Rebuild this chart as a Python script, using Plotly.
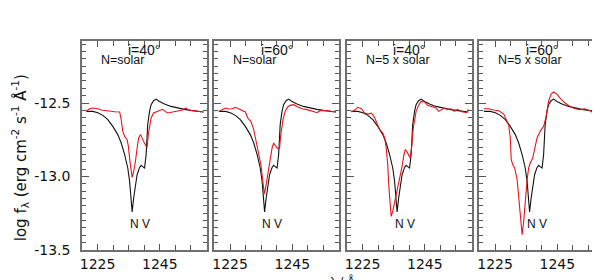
import plotly.graph_objects as go
from plotly.subplots import make_subplots

# Observed spectrum (black), same in every panel
obs_wave = [1221.4, 1223.5, 1225.1, 1226.7, 1228.3, 1229.9, 1231.5, 1232.6, 1233.7, 1234.7,
            1235.3, 1235.6, 1236.1, 1236.6, 1237.1, 1237.7, 1238.5, 1239.0, 1239.5, 1240.1,
            1240.6, 1241.1, 1241.7, 1242.2, 1243.0, 1243.8, 1244.9, 1246.5, 1248.6, 1250.7,
            1252.9, 1255.0, 1257.1, 1259.0]
obs_flux = [-12.557, -12.557, -12.566, -12.584, -12.613, -12.659, -12.715, -12.772, -12.851, -12.942,
            -13.033, -13.124, -13.241, -13.146, -13.078, -12.988, -12.938, -12.924, -12.933, -12.942,
            -12.851, -12.647, -12.557, -12.511, -12.484, -12.473, -12.489, -12.507, -12.523, -12.534,
            -12.543, -12.550, -12.557, -12.561]

# Model i=40, N=solar
m1_wave = [1221.4, 1222.5, 1223.5, 1225.1, 1226.2, 1227.3, 1228.9, 1230.5, 1232.1, 1232.6,
           1233.1, 1233.7, 1234.5, 1234.9, 1235.4, 1235.8, 1236.1, 1236.5, 1237.1, 1237.7,
           1238.2, 1238.8, 1239.3, 1239.8, 1240.6, 1240.9, 1241.3, 1241.7, 1242.2, 1243.0,
           1243.8, 1244.9, 1245.9, 1246.7, 1247.5, 1249.1, 1250.7, 1252.3, 1253.4, 1254.1,
           1255.5, 1257.1, 1259.0]
m1_flux = [-12.552, -12.539, -12.534, -12.539, -12.548, -12.552, -12.557, -12.559, -12.561, -12.613,
           -12.693, -12.727, -12.749, -12.795, -12.897, -12.988, -13.006, -12.976, -12.908, -12.806,
           -12.738, -12.715, -12.734, -12.761, -12.795, -12.802, -12.715, -12.647, -12.602, -12.568,
           -12.561, -12.548, -12.543, -12.557, -12.568, -12.561, -12.557, -12.548, -12.534, -12.548,
           -12.552, -12.557, -12.561]

# Model i=60, N=solar
m2_wave = [1221.4, 1222.5, 1223.5, 1224.6, 1225.7, 1226.7, 1227.8, 1228.9, 1229.9, 1230.7,
           1231.7, 1232.6, 1233.4, 1234.2, 1234.9, 1235.6, 1236.0, 1236.5, 1237.1, 1237.7,
           1238.5, 1239.0, 1239.5, 1240.1, 1240.6, 1240.9, 1241.3, 1242.0, 1242.7, 1243.5,
           1244.3, 1245.4, 1246.5, 1248.1, 1249.7, 1251.3, 1252.3, 1252.9, 1253.9, 1255.5,
           1257.1, 1259.0]
m2_flux = [-12.557, -12.545, -12.534, -12.541, -12.539, -12.529, -12.539, -12.552, -12.561, -12.602,
           -12.625, -12.681, -12.761, -12.840, -12.920, -13.044, -13.119, -13.067, -12.988, -12.885,
           -12.806, -12.772, -12.788, -12.806, -12.813, -12.806, -12.715, -12.613, -12.557, -12.527,
           -12.516, -12.511, -12.523, -12.539, -12.545, -12.552, -12.561, -12.566, -12.552, -12.552,
           -12.557, -12.561]

# Model i=40, N=5 x solar
m3_wave = [1221.4, 1222.5, 1223.5, 1224.6, 1225.7, 1226.7, 1227.8, 1228.5, 1229.4, 1230.5,
           1231.5, 1232.1, 1232.6, 1233.1, 1233.4, 1233.9, 1234.2, 1234.7, 1235.3, 1235.8,
           1236.5, 1237.1, 1237.7, 1238.2, 1238.7, 1239.2, 1239.7, 1240.3, 1240.8, 1241.3,
           1242.2, 1243.0, 1243.8, 1244.9, 1245.9, 1247.5, 1248.6, 1249.4, 1250.2, 1251.3,
           1252.3, 1253.4, 1254.5, 1255.5, 1256.6, 1257.7, 1258.4, 1259.0]
m3_flux = [-12.561, -12.548, -12.529, -12.539, -12.568, -12.575, -12.568, -12.584, -12.625, -12.681,
           -12.704, -12.738, -12.806, -12.920, -13.056, -13.192, -13.271, -13.237, -13.180, -13.112,
           -13.056, -13.010, -12.931, -12.863, -12.817, -12.829, -12.851, -12.874, -12.795, -12.670,
           -12.557, -12.516, -12.489, -12.493, -12.516, -12.529, -12.534, -12.557, -12.545, -12.534,
           -12.545, -12.539, -12.557, -12.543, -12.557, -12.561, -12.566, -12.543]

# Model i=60, N=5 x solar
m4_wave = [1221.4, 1223.0, 1224.6, 1226.2, 1227.8, 1229.4, 1229.9, 1230.2, 1230.7, 1231.3,
           1232.1, 1232.6, 1233.1, 1233.7, 1234.2, 1234.7, 1235.3, 1235.8, 1236.3, 1237.1,
           1237.7, 1238.5, 1239.5, 1240.6, 1241.3, 1242.2, 1243.0, 1243.8, 1244.9, 1245.9,
           1247.5, 1249.1, 1250.7, 1252.3, 1253.9, 1255.5, 1256.6, 1257.7, 1259.0]
m4_flux = [-12.539, -12.539, -12.548, -12.552, -12.575, -12.652, -12.738, -12.885, -12.920, -12.942,
           -13.022, -13.146, -13.282, -13.396, -13.305, -13.146, -13.022, -12.942, -12.908, -12.874,
           -12.806, -12.738, -12.693, -12.659, -12.602, -12.489, -12.439, -12.425, -12.439, -12.466,
           -12.500, -12.523, -12.539, -12.545, -12.539, -12.552, -12.568, -12.570, -12.543]

panel_titles = ["i=40°", "i=60°", "i=40°", "i=60°"]
panel_labels = ["N=solar", "N=solar", "N=5 x solar", "N=5 x solar"]
line_label = "N V"
line_label_pos = (1238.6, -13.32)

x_range = [1220, 1260]
y_range = [-13.5, -12.078]
x_tickvals = [1225, 1245]
y_tickvals = [-12.5, -13.0, -13.5]
y_ticktext = ["-12.5", "-13.0", "-13.5"]
x_minor_tick0, x_minor_dtick = 1225, 5
y_minor_tick0, y_minor_dtick = -13.5, 0.05

models = [(m1_wave, m1_flux), (m2_wave, m2_flux), (m3_wave, m3_flux), (m4_wave, m4_flux)]

W, H = 600, 280
ML, MR, MT, MB = 74, 2, 33, 38
plot_w = W - ML - MR

RED = "#e8141c"
BLACK = "#111111"
FRAME = "#707070"
TICKC = "#555555"
FONT = "Liberation Sans, Arial, sans-serif"
TICKFONT = "DejaVu Sans, sans-serif"

fig = make_subplots(rows=1, cols=4, shared_yaxes=True, horizontal_spacing=8 / plot_w)

for i, (wv, fl) in enumerate(models):
    fig.add_trace(go.Scatter(x=obs_wave, y=obs_flux, mode="lines",
                             line=dict(color=BLACK, width=1.1)), row=1, col=i + 1)
    fig.add_trace(go.Scatter(x=wv, y=fl, mode="lines",
                             line=dict(color=RED, width=1.1)), row=1, col=i + 1)

fig.update_xaxes(range=x_range, tickmode="array", tickvals=x_tickvals,
                 ticks="inside", ticklen=6, tickcolor=TICKC, tickwidth=1,
                 minor=dict(tickmode="linear", dtick=x_minor_dtick, tick0=x_minor_tick0,
                            ticks="inside", ticklen=5, tickcolor=TICKC, tickwidth=1),
                 showline=True, linecolor=FRAME, linewidth=1.5, mirror="allticks",
                 showgrid=False, zeroline=False,
                 tickfont=dict(family=TICKFONT, size=14, color="#111"))
fig.update_yaxes(range=y_range, tickmode="array", tickvals=y_tickvals,
                 ticktext=[t + "\u2002" for t in y_ticktext],
                 ticks="inside", ticklen=7, tickcolor=TICKC, tickwidth=1,
                 minor=dict(tickmode="linear", dtick=y_minor_dtick, tick0=y_minor_tick0,
                            ticks="inside", ticklen=4, tickcolor=TICKC, tickwidth=1),
                 showline=True, linecolor=FRAME, linewidth=1.5, mirror="allticks",
                 showgrid=False, zeroline=False,
                 tickfont=dict(family=TICKFONT, size=14, color="#111"))

annotations = []
for i in range(4):
    n = i + 1
    xa = "x" if n == 1 else f"x{n}"
    ya = "y" if n == 1 else f"y{n}"
    annotations.append(dict(text=panel_titles[i], xref=f"{xa} domain", yref="paper",
                            x=0.5, y=1 - 12 / H, xanchor="center", yanchor="middle",
                            showarrow=False, font=dict(family=FONT, size=14, color="#111")))
    annotations.append(dict(text=panel_labels[i], xref=f"{xa} domain", yref=ya,
                            x=17 / 125, y=-12.207, xanchor="left", yanchor="middle",
                            showarrow=False, font=dict(family=FONT, size=12.5, color="#111")))
    annotations.append(dict(text=line_label, xref=xa, yref=ya,
                            x=line_label_pos[0], y=line_label_pos[1],
                            xanchor="center", yanchor="middle",
                            showarrow=False, font=dict(family=FONT, size=12, color="#111")))

annotations.append(dict(text="log f<sub>λ</sub> (erg cm<sup>-2</sup> s<sup>-1</sup> Å<sup>-1</sup>)",
                        xref="paper", yref="paper", x=(11 - ML) / plot_w, y=(H - MB - 150) / (H - MT - MB),
                        xanchor="center", yanchor="middle", textangle=-90,
                        showarrow=False, font=dict(family=TICKFONT, size=15, color="#111")))
annotations.append(dict(text="λ / Å", xref="paper", yref="paper",
                        x=(336 - ML) / plot_w, y=(H - MB - 273) / (H - MT - MB),
                        xanchor="center", yanchor="middle",
                        showarrow=False, font=dict(family=FONT, size=12.5, color="#111")))

fig.update_layout(width=W, height=H, margin=dict(l=ML, r=MR, t=MT, b=MB),
                  paper_bgcolor="white", plot_bgcolor="white", showlegend=False,
                  font=dict(family=FONT, size=12, color="#111"),
                  annotations=annotations)
fig.write_html("out.html")
